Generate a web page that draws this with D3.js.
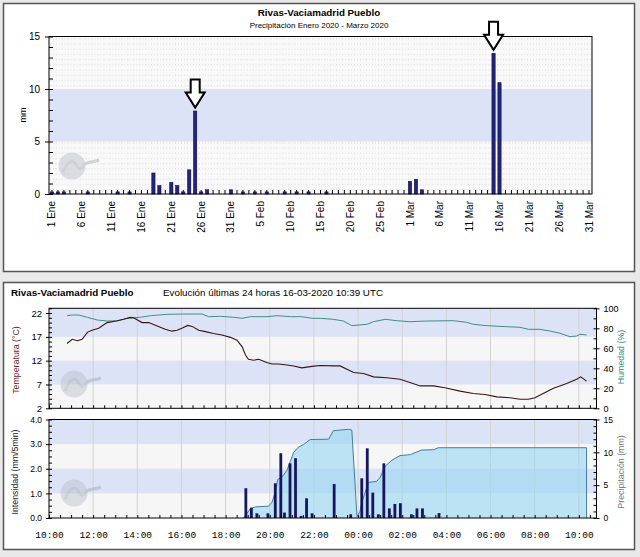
<!DOCTYPE html>
<html><head><meta charset="utf-8">
<script src="https://cdn.jsdelivr.net/npm/d3@7"></script>
<style>
body{margin:0;background:#e9e9e9}
svg{display:block;font-family:"Liberation Sans",Arial,sans-serif}
</style>
</head><body><svg id="c" width="640" height="557"></svg>
<script>
// ---------- DATA ----------
// Daily precipitation (mm), Jan-Mar 2020 (days not listed = 0)
const rainDays = ["2020-01-01","2020-01-02","2020-01-03","2020-01-07","2020-01-12","2020-01-14",
  "2020-01-18","2020-01-19","2020-01-21","2020-01-22","2020-01-23","2020-01-24","2020-01-25",
  "2020-01-26","2020-01-27","2020-01-31","2020-02-02","2020-02-04","2020-02-06","2020-02-09",
  "2020-02-11","2020-02-13","2020-02-16","2020-03-01","2020-03-02","2020-03-03","2020-03-15","2020-03-16"];
const rainMm = [0.2,0.2,0.2,0.2,0.2,0.2,
  2.0,0.8,1.1,0.8,0.2,2.3,7.9,
  0.2,0.4,0.4,0.2,0.2,0.2,0.2,
  0.2,0.2,0.2,1.2,1.4,0.4,13.4,10.6];
const arrowDays = ["2020-01-25","2020-03-15"];
const topTickDates = ["2020-01-01","2020-01-06","2020-01-11","2020-01-16","2020-01-21","2020-01-26","2020-01-31",
  "2020-02-05","2020-02-10","2020-02-15","2020-02-20","2020-02-25","2020-03-01","2020-03-06","2020-03-11",
  "2020-03-16","2020-03-21","2020-03-26","2020-03-31"];
const topTickLabels = ["1 Ene","6 Ene","11 Ene","16 Ene","21 Ene","26 Ene","31 Ene","5 Feb","10 Feb","15 Feb",
  "20 Feb","25 Feb","1 Mar","6 Mar","11 Mar","16 Mar","21 Mar","26 Mar","31 Mar"];
const topYTicks = [0,5,10,15];

// Last 24 h (day hh:mm)
const tempTimes = ["15 10:49","15 11:03","15 11:17","15 11:30","15 11:45","15 11:57","15 12:15","15 12:38","15 13:05",
  "15 13:23","15 13:41","15 13:50","15 14:13","15 14:31","15 14:54","15 15:16","15 15:34","15 15:48","15 16:04",
  "15 16:17","15 16:29","15 16:47","15 17:05","15 17:27","15 17:50","15 18:13","15 18:31","15 18:45","15 18:54",
  "15 19:02","15 19:16","15 19:30","15 19:52","15 20:06","15 20:24","15 20:47","15 21:05","15 21:27","15 21:55",
  "15 22:17","15 22:53","15 23:11","15 23:48","16 00:15","16 00:42","16 01:18","16 01:54","16 02:21","16 02:49",
  "16 03:25","16 03:56","16 04:37","16 05:13","16 05:45","16 06:17","16 06:53","16 07:20","16 07:43","16 08:01",
  "16 08:23","16 08:51","16 09:27","16 09:54","16 10:05","16 10:21"];
const tempVals = [15.6,16.5,16.2,16.5,18.0,18.4,18.8,20.0,20.4,
  20.7,21.1,21.0,20.0,20.0,19.3,18.6,18.2,18.4,18.9,
  19.4,19.2,18.4,18.1,17.7,17.4,16.9,16.3,14.9,13.2,
  12.3,12.1,12.3,11.6,11.3,11.3,11.1,10.9,10.5,10.8,
  11.0,10.9,10.9,9.5,9.3,8.6,8.4,8.1,7.4,6.7,
  6.7,6.3,5.6,5.1,4.9,4.4,4.2,3.9,3.9,4.2,
  5.1,6.2,7.2,8.1,8.6,7.7];
const humTimes = ["15 10:49","15 11:03","15 11:21","15 11:44","15 12:11","15 12:38","15 13:05","15 13:32","15 14:08",
  "15 14:36","15 15:21","15 16:15","15 16:56","15 17:14","15 17:46","15 18:22","15 18:45","15 19:07","15 19:52",
  "15 20:20","15 20:56","15 21:27","15 21:55","15 22:17","15 22:53","15 23:20","15 23:43","16 00:24","16 00:42",
  "16 01:14","16 01:45","16 02:21","16 03:07","16 04:19","16 04:55","16 05:13","16 05:50","16 06:44","16 07:20",
  "16 07:43","16 08:14","16 08:42","16 09:09","16 09:36","16 09:54","16 10:03","16 10:21"];
const humVals = [92.6,93.3,93.3,91,88.3,87.3,87.3,90,91,
  92.6,94,94.3,94.3,91.6,92,91,90,91.6,91.6,
  92.6,91.6,91.6,90,90,89,87.3,82.6,84,86.6,
  89,87.6,86.6,87.3,87.6,86,84,82.6,81.6,81,
  79,79,77.3,75,71.6,72.3,74,73.3];
const cumTimes = ["15 18:49","15 19:07","15 19:21","15 19:57","15 20:06","15 20:15","15 20:22","15 20:33","15 20:47",
  "15 21:05","15 21:18","15 21:32","15 21:50","15 22:40","15 22:53","15 23:34","15 23:43","15 23:57",
  "16 00:05","16 00:10","16 00:17","16 00:28","16 00:51","16 01:00","16 01:14","16 01:32","16 01:54",
  "16 02:22","16 02:53","16 03:25","16 03:38","16 10:21"];
const cumVals = [0,1.4,1.7,1.8,2.4,4.0,5.9,6.2,7.3,
  10.0,10.8,11.2,11.95,12.0,13.3,13.5,13.4,0.2,
  1.0,2.4,3.5,5.4,5.6,6.2,7.9,8.8,9.5,
  9.65,10.35,10.4,10.7,10.7];
const intTimes = ["15 18:55","15 19:10","15 19:25","15 19:55","15 20:15","15 20:30","15 20:40","15 20:55","15 21:10",
  "15 21:25","15 21:40","15 21:55","15 22:55","15 23:40","16 00:10","16 00:25","16 00:40","16 00:55","16 01:10",
  "16 01:25","16 01:40","16 01:55","16 02:25","16 02:40","16 02:55","16 03:40"];
const intVals = [1.21,0.42,0.19,0.19,1.41,2.63,0.22,2.22,2.43,
  0.08,0.80,0.19,1.38,0.15,1.61,2.83,1.03,0.15,2.22,
  0.39,0.57,0.60,0.15,0.39,0.39,0.20];
const tempTicks = [2,7,12,17,22];
const humTicks = [0,20,40,60,80,100];
const intTicks = [0,1,2,3,4];
const cumTicks = [0,5,10,15];

// ---------- DRAW ----------
const svg = d3.select("#c");
const pt = d3.timeParse("%d %H:%M");
const blue = "#dde3f6", pale = "#f6f6f6";

const defs = svg.append("defs");
const pat = defs.append("pattern").attr("id","dots").attr("patternUnits","userSpaceOnUse")
  .attr("width",5.967).attr("height",5.2);
pat.append("rect").attr("width",6).attr("height",5.2).attr("fill","#f9f9f9");
pat.append("rect").attr("x",2).attr("y",2).attr("width",1).attr("height",1).attr("fill","#d0d0d0");
pat.append("rect").attr("x",5).attr("y",2).attr("width",1).attr("height",1).attr("fill","#dedede");

svg.append("rect").attr("width",640).attr("height",557).attr("fill","#e9e9e9");
svg.append("rect").attr("x",3.5).attr("y",3.5).attr("width",631).attr("height",268)
  .attr("fill","#fff").attr("stroke","#555").attr("stroke-width",1.5);
svg.append("rect").attr("x",3.5).attr("y",282.5).attr("width",631).attr("height",267)
  .attr("fill","#fff").attr("stroke","#555").attr("stroke-width",1.5);

function logo(g, cx, cy){
  const w = g.append("g").attr("transform",`translate(${cx},${cy})`).attr("opacity",0.5);
  w.append("circle").attr("r",13.5).attr("fill","#bfc3cc");
  w.append("path").attr("d","M-9,7 C-5,-4 0,-8 4,-2 C6,3 9,4 12,-1 C15,-5 20,-3 27,-6")
    .attr("fill","none").attr("stroke","#a9adb7").attr("stroke-width",3);
}

// ===== Top chart =====
const allDays = d3.timeDay.range(new Date(2020,0,1), new Date(2020,3,1)).map(d3.timeFormat("%Y-%m-%d"));
const xDay = d3.scaleBand().domain(allDays).range([49,592]);
const yTop = d3.scaleLinear().domain([0,15]).range([194,36.5]);
const gTop = svg.append("g");
gTop.append("rect").attr("x",49).attr("y",yTop(15)).attr("width",543).attr("height",yTop(0)-yTop(15)).attr("fill","url(#dots)");
gTop.append("rect").attr("x",49).attr("y",yTop(10)).attr("width",543).attr("height",yTop(5)-yTop(10)).attr("fill",blue);
logo(gTop, 72, 166);

const topY = gTop.append("g").attr("transform","translate(49,0)")
  .call(d3.axisLeft(yTop).tickValues(topYTicks).tickSize(4).tickPadding(5));
topY.select(".domain").remove();
topY.selectAll("text").attr("font-size",10).attr("font-family","Liberation Sans, Arial");
gTop.append("g").attr("transform","translate(49,0)")
  .call(d3.axisRight(yTop).tickValues(d3.range(0,15.01,1)).tickSize(4).tickFormat(""))
  .select(".domain").remove();
const topXt = gTop.append("g").attr("transform","translate(0,194)")
  .call(d3.axisTop(xDay).tickSize(4).tickFormat(""));
topXt.select(".domain").remove();
const topX = gTop.append("g").attr("transform","translate(0,194)")
  .call(d3.axisBottom(xDay).tickValues(topTickDates).tickFormat((d,i)=>topTickLabels[i]).tickSize(0));
topX.select(".domain").remove();
topX.selectAll("text").attr("font-size",10).attr("font-family","Liberation Sans, Arial")
  .attr("transform","rotate(-90)").attr("text-anchor","end").attr("x",-7).attr("y",0).attr("dy","0.35em");

gTop.append("g").selectAll("rect").data(rainDays).join("rect")
  .attr("x",(d)=>xDay(d)+xDay.bandwidth()/2-1.6).attr("width",3.2)
  .attr("y",(d,i)=>yTop(rainMm[i])).attr("height",(d,i)=>yTop(0)-yTop(rainMm[i]))
  .attr("fill","#24247e").attr("stroke","#0b0b35").attr("stroke-width",0.6);
gTop.append("rect").attr("x",49).attr("y",yTop(15)).attr("width",543).attr("height",yTop(0)-yTop(15))
  .attr("fill","none").attr("stroke","#000").attr("stroke-width",1);

arrowDays.forEach(dd=>{
  const cx = xDay(dd)+xDay.bandwidth()/2;
  const tip = yTop(rainMm[rainDays.indexOf(dd)]) - 3.5;
  const t = tip - 28;
  gTop.append("path").attr("d",`M${cx-4.5},${t}L${cx+4.5},${t}L${cx+4.5},${t+13}L${cx+9.5},${t+13}L${cx},${tip}L${cx-9.5},${t+13}L${cx-4.5},${t+13}Z`)
    .attr("fill","#fff").attr("stroke","#000").attr("stroke-width",2).attr("stroke-linejoin","miter");
});

gTop.append("text").attr("x",319).attr("y",15.5).attr("text-anchor","middle").attr("font-weight","bold")
  .attr("font-size",9.8).text("Rivas-Vaciamadrid Pueblo");
gTop.append("text").attr("x",319).attr("y",27.5).attr("text-anchor","middle")
  .attr("font-size",8).text("Precipitación Enero 2020 - Marzo 2020");
gTop.append("text").attr("transform","translate(26,115) rotate(-90)").attr("text-anchor","middle")
  .attr("font-size",9).text("mm");

// ===== Bottom panel =====
const bot = svg.append("g");
bot.append("text").attr("x",11).attr("y",296).attr("font-weight","bold").attr("font-size",9.8)
  .text("Rivas-Vaciamadrid Pueblo");
bot.append("text").attr("x",163).attr("y",296).attr("font-size",9.8)
  .text("Evolución últimas 24 horas 16-03-2020 10:39 UTC");

const xT = d3.scaleTime().domain([pt("15 10:00"), pt("16 10:48")]).range([49,596.5]);
const hourTicks = xT.ticks(d3.timeHour.every(2));
const halfTicks = xT.ticks(d3.timeMinute.every(30));

// --- temperature / humidity chart ---
const yTemp = d3.scaleLinear().domain([2,23]).range([408.3,308.3]);
const yHum = d3.scaleLinear().domain([0,100]).range([408.3,308.3]);
const g1 = bot.append("g");
g1.append("rect").attr("x",49).attr("y",308.3).attr("width",547.5).attr("height",100).attr("fill",pale);
[[17,23],[7,12]].forEach(b=>g1.append("rect").attr("x",49).attr("y",yTemp(b[1])).attr("width",547.5)
  .attr("height",yTemp(b[0])-yTemp(b[1])).attr("fill",blue));
g1.append("g").selectAll("line").data(hourTicks.slice(1)).join("line").attr("x1",d=>xT(d)).attr("x2",d=>xT(d))
  .attr("y1",308.3).attr("y2",408.3).attr("stroke","#d2d2d2").attr("stroke-width",1);
logo(g1, 74, 384);
g1.append("path").datum(humVals).attr("fill","none").attr("stroke","#3e8f7f").attr("stroke-width",1)
  .attr("d",d3.line().x((d,i)=>xT(pt(humTimes[i]))).y(d=>yHum(d)));
g1.append("path").datum(tempVals).attr("fill","none").attr("stroke","#3a1414").attr("stroke-width",1.1)
  .attr("d",d3.line().x((d,i)=>xT(pt(tempTimes[i]))).y(d=>yTemp(d)));

const tAx = g1.append("g").attr("transform","translate(49,0)")
  .call(d3.axisLeft(yTemp).tickValues(tempTicks).tickSize(3).tickPadding(4));
tAx.select(".domain").remove();
tAx.selectAll("text").attr("font-size",9.5).attr("font-family","Liberation Sans, Arial");
g1.append("g").attr("transform","translate(49,0)")
  .call(d3.axisRight(yTemp).tickValues(d3.range(2,23.01,1)).tickSize(3).tickFormat("")).select(".domain").remove();
const hAx = g1.append("g").attr("transform","translate(596.5,0)")
  .call(d3.axisRight(yHum).tickValues(humTicks).tickSize(3).tickPadding(4));
hAx.select(".domain").remove();
hAx.selectAll("text").attr("font-size",9).attr("font-family","Liberation Sans, Arial");
g1.append("g").attr("transform","translate(596.5,0)")
  .call(d3.axisLeft(yHum).tickValues(d3.range(0,100.1,10)).tickSize(3).tickFormat("")).select(".domain").remove();
g1.append("g").attr("transform","translate(0,408.3)")
  .call(d3.axisTop(xT).tickValues(halfTicks).tickSize(3).tickFormat("")).select(".domain").remove();
g1.append("rect").attr("x",49).attr("y",308.3).attr("width",547.5).attr("height",100)
  .attr("fill","none").attr("stroke","#000");
g1.append("text").attr("transform","translate(19,360) rotate(-90)").attr("text-anchor","middle")
  .attr("font-size",8.8).attr("fill","#6b1d1d").text("Temperatura (°C)");
g1.append("text").attr("transform","translate(624,357) rotate(-90)").attr("text-anchor","middle")
  .attr("font-size",8.8).attr("fill","#3e8f7f").text("Humedad (%)");

// --- precipitation chart ---
const yInt = d3.scaleLinear().domain([0,4]).range([518,419.5]);
const yCum = d3.scaleLinear().domain([0,15]).range([518,419.5]);
const g2 = bot.append("g");
g2.append("rect").attr("x",49).attr("y",419.5).attr("width",547.5).attr("height",98.5).attr("fill",pale);
[[3,4],[1,2]].forEach(b=>g2.append("rect").attr("x",49).attr("y",yInt(b[1])).attr("width",547.5)
  .attr("height",yInt(b[0])-yInt(b[1])).attr("fill",blue));
g2.append("g").selectAll("line").data(hourTicks.slice(1)).join("line").attr("x1",d=>xT(d)).attr("x2",d=>xT(d))
  .attr("y1",419.5).attr("y2",518).attr("stroke","#d2d2d2").attr("stroke-width",1);
logo(g2, 74, 493);
g2.append("path").datum(cumVals)
  .attr("fill","rgba(151,214,241,0.6)").attr("stroke","none")
  .attr("d",d3.area().x((d,i)=>xT(pt(cumTimes[i]))).y0(yCum(0)).y1(d=>yCum(d)));
g2.append("path").datum(cumVals).attr("fill","none").attr("stroke","#3f7f9c").attr("stroke-width",1)
  .attr("d",d3.line().x((d,i)=>xT(pt(cumTimes[i]))).y(d=>yCum(d)));
const lastT = xT(pt(cumTimes[cumTimes.length-1]));
g2.append("line").attr("x1",lastT).attr("x2",lastT)
  .attr("y1",yCum(cumVals[cumVals.length-1])).attr("y2",yCum(0)).attr("stroke","#3f7f9c");
g2.append("g").selectAll("rect").data(intVals).join("rect")
  .attr("x",(d,i)=>xT(pt(intTimes[i]))-1.4).attr("width",2.8)
  .attr("y",d=>yInt(d)).attr("height",d=>yInt(0)-yInt(d)).attr("fill","#16165e");

const iAx = g2.append("g").attr("transform","translate(49,0)")
  .call(d3.axisLeft(yInt).tickValues(intTicks).tickFormat(d3.format(".1f")).tickSize(3).tickPadding(4));
iAx.select(".domain").remove();
iAx.selectAll("text").attr("font-size",8.5).attr("font-family","Liberation Sans, Arial");
g2.append("g").attr("transform","translate(49,0)")
  .call(d3.axisRight(yInt).tickValues(d3.range(0,4.01,0.25)).tickSize(3).tickFormat("")).select(".domain").remove();
const cAx = g2.append("g").attr("transform","translate(596.5,0)")
  .call(d3.axisRight(yCum).tickValues(cumTicks).tickSize(3).tickPadding(4));
cAx.select(".domain").remove();
cAx.selectAll("text").attr("font-size",8.5).attr("font-family","Liberation Sans, Arial");
g2.append("g").attr("transform","translate(596.5,0)")
  .call(d3.axisLeft(yCum).tickValues(d3.range(0,15.01,1)).tickSize(3).tickFormat("")).select(".domain").remove();
g2.append("g").attr("transform","translate(0,518)")
  .call(d3.axisTop(xT).tickValues(halfTicks).tickSize(3).tickFormat("")).select(".domain").remove();
const xAx = g2.append("g").attr("transform","translate(0,518)")
  .call(d3.axisBottom(xT).tickValues(hourTicks).tickFormat(d3.timeFormat("%H:%M")).tickSize(0).tickPadding(13));
xAx.select(".domain").remove();
xAx.selectAll("text").attr("font-size",9.5).attr("font-family","Liberation Mono, Courier New, monospace");
g2.append("rect").attr("x",49).attr("y",419.5).attr("width",547.5).attr("height",98.5)
  .attr("fill","none").attr("stroke","#000");
g2.append("text").attr("transform","translate(18,472) rotate(-90)").attr("text-anchor","middle")
  .attr("font-size",8.8).attr("fill","#222").text("Intensidad (mm/5min)");
g2.append("text").attr("transform","translate(624,472) rotate(-90)").attr("text-anchor","middle")
  .attr("font-size",8.8).attr("fill","#777").text("Precipitación (mm)");
</script>
</body></html>
